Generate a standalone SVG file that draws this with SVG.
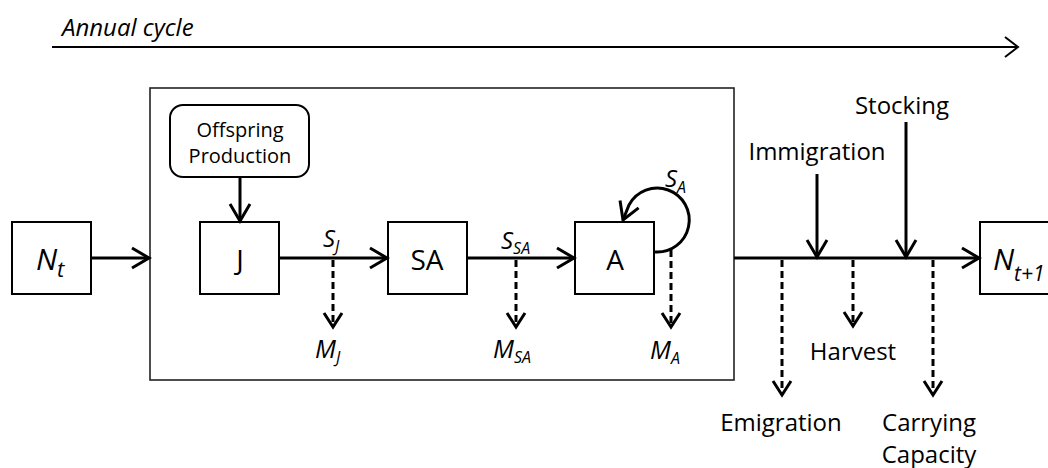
<svg xmlns="http://www.w3.org/2000/svg" width="1048" height="468" viewBox="0 0 1048 468">
<defs>
<style>
text{font-family:"Open Sans","Noto Sans","Liberation Sans",sans-serif;fill:#000}
.it{font-style:italic}
.box{fill:#fff;stroke:#000;stroke-width:2}
.frame{fill:none;stroke:#222;stroke-width:1.6}
.ln{fill:none;stroke:#000;stroke-width:3}
.dash{fill:none;stroke:#000;stroke-width:3;stroke-dasharray:7 4}
.lbl{font-size:24px;text-anchor:middle}
.big{font-size:28px;text-anchor:middle}
.sym{font-size:25px}
.sub{font-size:16px}
</style>
<marker id="ah" markerUnits="userSpaceOnUse" markerWidth="30" markerHeight="30" refX="20" refY="12" orient="auto" overflow="visible">
<path d="M3 2 L20 12 L3 22" fill="none" stroke="#000" stroke-width="3" stroke-dasharray="none"/>
</marker>
<marker id="ahs" markerUnits="userSpaceOnUse" markerWidth="30" markerHeight="30" refX="18" refY="12" orient="auto" overflow="visible">
<path d="M4 3 L18 12 L4 21" fill="none" stroke="#000" stroke-width="3" stroke-dasharray="none"/>
</marker>
<marker id="aht" markerUnits="userSpaceOnUse" markerWidth="30" markerHeight="30" refX="16" refY="12" orient="auto" overflow="visible">
<path d="M3 2 L16 12 L3 22" fill="none" stroke="#000" stroke-width="2" stroke-dasharray="none"/>
</marker>
</defs>
<rect width="1048" height="468" fill="#fff"/>

<g id="annual-cycle">
<text x="62" y="36" class="it" font-size="24">Annual cycle</text>
<line x1="52" y1="47" x2="1018" y2="47" stroke="#000" stroke-width="2" marker-end="url(#aht)"/>
</g>

<g id="frame"><rect x="150" y="88" width="584" height="292" class="frame"/></g>

<g id="Nt"><rect x="12" y="222" width="79" height="72" class="box"/>
<text x="36" y="270" class="it" font-size="30">N<tspan font-size="22" dy="7">t</tspan></text></g>

<g id="offspring"><rect x="170" y="105" width="139" height="72" rx="13" class="box"/>
<text x="240" y="137" font-size="20" text-anchor="middle">Offspring</text>
<text x="240" y="163" font-size="20" text-anchor="middle">Production</text></g>

<g id="J"><rect x="200" y="222" width="79" height="72" class="box"/>
<text x="240" y="270" class="big">J</text></g>

<g id="SA"><rect x="388" y="222" width="79" height="72" class="box"/>
<text x="427" y="270" class="big">SA</text></g>

<g id="A"><rect x="575" y="222" width="79" height="72" class="box"/>
<text x="615" y="270" class="big">A</text></g>

<g id="Nt1"><rect x="980" y="222" width="80" height="72" class="box"/>
<text x="993" y="270" class="it" font-size="30">N<tspan font-size="21" dy="11">t+1</tspan></text></g>

<g id="connectors">
<line x1="91" y1="258" x2="149" y2="258" class="ln" marker-end="url(#ah)"/>
<line x1="240" y1="177" x2="240" y2="221" class="ln" marker-end="url(#ah)"/>
<line x1="279" y1="258" x2="387" y2="258" class="ln" marker-end="url(#ah)"/>
<line x1="467" y1="258" x2="574" y2="258" class="ln" marker-end="url(#ah)"/>
<path d="M655 252 A32 32 0 1 0 629 205 L623 220" class="ln" marker-end="url(#ah)"/>
<line x1="734" y1="258" x2="979" y2="258" class="ln" marker-end="url(#ah)"/>
<line x1="817" y1="174" x2="817" y2="257" class="ln" marker-end="url(#ah)"/>
<line x1="906" y1="122" x2="906" y2="257" class="ln" marker-end="url(#ah)"/>
<line x1="333" y1="260" x2="333" y2="327" class="dash" marker-end="url(#ahs)"/>
<line x1="516" y1="260" x2="516" y2="327" class="dash" marker-end="url(#ahs)"/>
<line x1="671" y1="250" x2="671" y2="327" class="dash" marker-end="url(#ahs)"/>
<line x1="782" y1="260" x2="782" y2="395" class="dash" marker-end="url(#ahs)"/>
<line x1="853" y1="260" x2="853" y2="326" class="dash" marker-end="url(#ahs)"/>
<line x1="933" y1="260" x2="933" y2="395" class="dash" marker-end="url(#ahs)"/>
</g>

<g id="labels">
<text x="323" y="247" class="it" font-size="24">S<tspan class="sub" dy="5">J</tspan></text>
<text x="501" y="249" class="it" font-size="24">S<tspan class="sub" dy="5">SA</tspan></text>
<text x="665" y="187" class="it" font-size="24">S<tspan class="sub" dy="6">A</tspan></text>
<text x="315" y="358" class="it sym">M<tspan class="sub" dy="5">J</tspan></text>
<text x="493" y="358" class="it sym">M<tspan class="sub" dy="5">SA</tspan></text>
<text x="650" y="359" class="it sym">M<tspan class="sub" dy="5">A</tspan></text>
</g>

<g id="stocking"><text x="902" y="114" class="lbl">Stocking</text></g>
<g id="immigration"><text x="817" y="160" class="lbl">Immigration</text></g>
<g id="emigration"><text x="781" y="431" class="lbl">Emigration</text></g>
<g id="harvest"><text x="853" y="360" class="lbl">Harvest</text></g>
<g id="carrying"><text x="929" y="431" class="lbl">Carrying</text><text x="929" y="463" class="lbl">Capacity</text></g>
</svg>
